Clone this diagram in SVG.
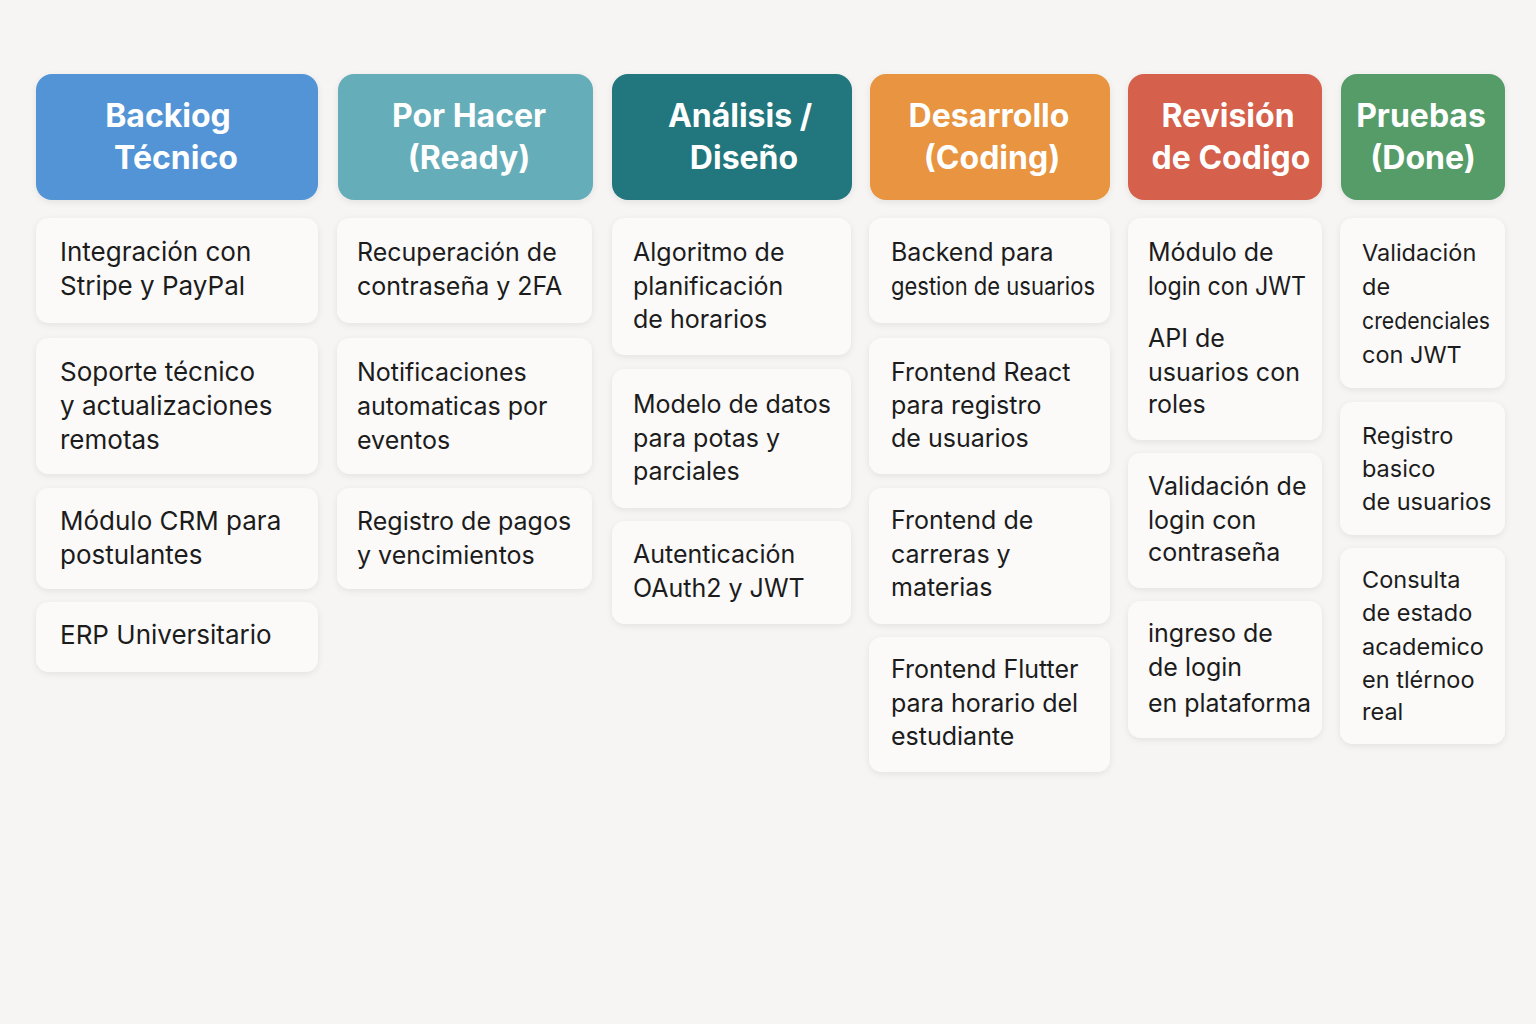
<svg xmlns="http://www.w3.org/2000/svg" width="1536" height="1024" viewBox="0 0 1536 1024">
<defs>
<filter id="sh" x="-10%" y="-10%" width="120%" height="130%">
<feDropShadow dx="0" dy="2" stdDeviation="3" flood-color="#000" flood-opacity="0.08"/>
</filter>
<style>
.hd{font-family:Inter,"Noto Sans","Liberation Sans",sans-serif;font-weight:700;font-size:32px;fill:#fff;text-anchor:middle}
.card{fill:#fbfaf9;filter:url(#sh)}
.head{filter:url(#sh)}
.t{font-family:Inter,"Noto Sans","Liberation Sans",sans-serif;font-size:25px;fill:#1c1c1c}
.w{font-size:26px}
.n{font-size:23.5px}
</style>
</defs>
<rect width="1536" height="1024" fill="#f6f5f4"/>

<!-- Column 1 -->
<g id="h-backlog">
<rect class="head" x="36" y="74" width="282" height="126" rx="16" fill="#5294d6"/>
<text class="hd" x="168" y="127">Backiog</text>
<text class="hd" x="176" y="169">Técnico</text>
</g>
<g id="c1-1"><rect class="card" x="36" y="218" width="282" height="105" rx="13"/>
<text class="t w" x="60" y="261">Integración con</text><text class="t w" x="60" y="295">Stripe y PayPal</text></g>
<g id="c1-2"><rect class="card" x="36" y="338" width="282" height="136" rx="13"/>
<text class="t w" x="60" y="381">Soporte técnico</text><text class="t w" x="60" y="415">y actualizaciones</text><text class="t w" x="60" y="449">remotas</text></g>
<g id="c1-3"><rect class="card" x="36" y="488" width="282" height="101" rx="13"/>
<text class="t w" x="60" y="530">Módulo CRM para</text><text class="t w" x="60" y="564">postulantes</text></g>
<g id="c1-4"><rect class="card" x="36" y="602" width="282" height="70" rx="13"/>
<text class="t w" x="60" y="644">ERP Universitario</text></g>

<!-- Column 2 -->
<g id="h-porhacer">
<rect class="head" x="338" y="74" width="255" height="126" rx="16" fill="#65adb9"/>
<text class="hd" x="469" y="127">Por Hacer</text>
<text class="hd" x="469" y="169">(Ready)</text>
</g>
<g id="c2-1"><rect class="card" x="337" y="218" width="255" height="105" rx="13"/>
<text class="t" x="357" y="261">Recuperación de</text><text class="t" x="357" y="295">contraseña y 2FA</text></g>
<g id="c2-2"><rect class="card" x="337" y="338" width="255" height="136" rx="13"/>
<text class="t" x="357" y="381">Notificaciones</text><text class="t" x="357" y="415">automaticas por</text><text class="t" x="357" y="449">eventos</text></g>
<g id="c2-3"><rect class="card" x="337" y="488" width="255" height="101" rx="13"/>
<text class="t" x="357" y="530">Registro de pagos</text><text class="t" x="357" y="564">y vencimientos</text></g>

<!-- Column 3 -->
<g id="h-analisis">
<rect class="head" x="612" y="74" width="240" height="126" rx="16" fill="#22767d"/>
<text class="hd" x="740" y="127">Análisis /</text>
<text class="hd" x="744" y="169">Diseño</text>
</g>
<g id="c3-1"><rect class="card" x="612" y="218" width="239" height="137" rx="13"/>
<text class="t" x="633" y="261">Algoritmo de</text><text class="t" x="633" y="295">planificación</text><text class="t" x="633" y="328">de horarios</text></g>
<g id="c3-2"><rect class="card" x="612" y="369" width="239" height="139" rx="13"/>
<text class="t" x="633" y="413">Modelo de datos</text><text class="t" x="633" y="447">para potas y</text><text class="t" x="633" y="480">parciales</text></g>
<g id="c3-3"><rect class="card" x="612" y="521" width="239" height="103" rx="13"/>
<text class="t" x="633" y="563">Autenticación</text><text class="t" x="633" y="597">OAuth2 y JWT</text></g>

<!-- Column 4 -->
<g id="h-desarrollo">
<rect class="head" x="870" y="74" width="240" height="126" rx="16" fill="#e89440"/>
<text class="hd" x="989" y="127">Desarrollo</text>
<text class="hd" x="992" y="169">(Coding)</text>
</g>
<g id="c4-1"><rect class="card" x="869" y="218" width="241" height="105" rx="13"/>
<text class="t" x="891" y="261">Backend para</text><text class="t" x="891" y="295" textLength="204" lengthAdjust="spacingAndGlyphs">gestion de usuarios</text></g>
<g id="c4-2"><rect class="card" x="869" y="338" width="241" height="136" rx="13"/>
<text class="t" x="891" y="381">Frontend React</text><text class="t" x="891" y="414">para registro</text><text class="t" x="891" y="447">de usuarios</text></g>
<g id="c4-3"><rect class="card" x="869" y="488" width="241" height="136" rx="13"/>
<text class="t" x="891" y="529">Frontend de</text><text class="t" x="891" y="563">carreras y</text><text class="t" x="891" y="596">materias</text></g>
<g id="c4-4"><rect class="card" x="869" y="637" width="241" height="135" rx="13"/>
<text class="t" x="891" y="678">Frontend Flutter</text><text class="t" x="891" y="712">para horario del</text><text class="t" x="891" y="745">estudiante</text></g>

<!-- Column 5 -->
<g id="h-revision">
<rect class="head" x="1128" y="74" width="194" height="126" rx="16" fill="#d5604c"/>
<text class="hd" x="1228" y="127">Revisión</text>
<text class="hd" x="1231" y="169">de Codigo</text>
</g>
<g id="c5-1"><rect class="card" x="1128" y="218" width="194" height="222" rx="13"/>
<text class="t" x="1148" y="261">Módulo de</text><text class="t" x="1148" y="295" textLength="158" lengthAdjust="spacingAndGlyphs">login con JWT</text>
<text class="t" x="1148" y="347">API de</text><text class="t" x="1148" y="381">usuarios con</text><text class="t" x="1148" y="413">roles</text></g>
<g id="c5-2"><rect class="card" x="1128" y="453" width="194" height="135" rx="13"/>
<text class="t" x="1148" y="495">Validación de</text><text class="t" x="1148" y="529">login con</text><text class="t" x="1148" y="561">contraseña</text></g>
<g id="c5-3"><rect class="card" x="1128" y="601" width="194" height="137" rx="13"/>
<text class="t" x="1148" y="642">ingreso de</text><text class="t" x="1148" y="676">de login</text><text class="t" x="1148" y="712" textLength="163" lengthAdjust="spacingAndGlyphs">en plataforma</text></g>

<!-- Column 6 -->
<g id="h-pruebas">
<rect class="head" x="1341" y="74" width="164" height="126" rx="16" fill="#549c68"/>
<text class="hd" x="1421" y="127">Pruebas</text>
<text class="hd" x="1423" y="169">(Done)</text>
</g>
<g id="c6-1"><rect class="card" x="1340" y="218" width="165" height="170" rx="13"/>
<text class="t n" x="1362" y="261">Validación</text><text class="t n" x="1362" y="295">de</text><text class="t n" x="1362" y="329" textLength="128" lengthAdjust="spacingAndGlyphs">credenciales</text><text class="t n" x="1362" y="363">con JWT</text></g>
<g id="c6-2"><rect class="card" x="1340" y="402" width="165" height="133" rx="13"/>
<text class="t n" x="1362" y="444">Registro</text><text class="t n" x="1362" y="477">basico</text><text class="t n" x="1362" y="510">de usuarios</text></g>
<g id="c6-3"><rect class="card" x="1340" y="548" width="165" height="196" rx="13"/>
<text class="t n" x="1362" y="588">Consulta</text><text class="t n" x="1362" y="621">de estado</text><text class="t n" x="1362" y="655">academico</text><text class="t n" x="1362" y="688">en tlérnoo</text><text class="t n" x="1362" y="720">real</text></g>
</svg>
